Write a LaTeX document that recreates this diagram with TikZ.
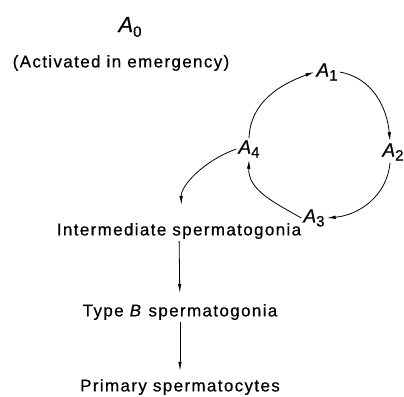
\documentclass[tikz,border=0pt]{standalone}
\usepackage{fontspec}
\setmainfont{Liberation Sans}[LetterSpace=8, FakeBold=0.6]
\usetikzlibrary{arrows.meta, positioning}

\newcommand{\Alab}[1]{{\itshape A}\raisebox{-0.4ex}{\fontsize{15}{15}\selectfont #1}}

\begin{document}
\begin{tikzpicture}[x=1pt, y=-1pt,
    every node/.style={inner sep=2pt, font=\fontsize{17}{19}\selectfont},
    arr/.style={-{Latex[length=9pt,width=3.5pt]}, thick}]
    \useasboundingbox (0,0) rectangle (404,396);
    % labels
    \node (a0) at (130,27) {\fontsize{22}{24}\selectfont\Alab{0}};
    \node (act) at (121,63) {(Activated in emergency)};
    \node (a1) at (327,72) {\fontsize{19}{21}\selectfont\Alab{1}};
    \node (a2) at (393,152) {\fontsize{19}{21}\selectfont\Alab{2}};
    \node (a3) at (314,218) {\fontsize{19}{21}\selectfont\Alab{3}};
    \node (a4) at (249,149) {\fontsize{19}{21}\selectfont\Alab{4}};
    \node (inter) at (179,231) {Intermediate spermatogonia};
    \node (typeb) at (180,312) {Type \textit{B} spermatogonia};
    \node (prim) at (180,387) {Primary spermatocytes};
    % the cycle
    \draw[arr] (a4.north) to[out=88, in=200] (a1.west);
    \draw[arr] (a1.east) to[out=-10, in=95] ([xshift=-3pt]a2.north);
    \draw[arr] ([xshift=-3pt]a2.south) to[out=-95, in=5] (a3.east);
    \draw[arr] (a3.west) to[out=150, in=-92] (a4.south);
    % lineage
    \draw[arr, shorten >=16pt] (a4.west) to[out=200, in=92] ([xshift=3pt]inter.north);
    \draw[arr, shorten >=9pt] (inter) -- (typeb);
    \draw[arr, shorten >=6pt] (typeb) -- (prim);
\end{tikzpicture}
\end{document}
